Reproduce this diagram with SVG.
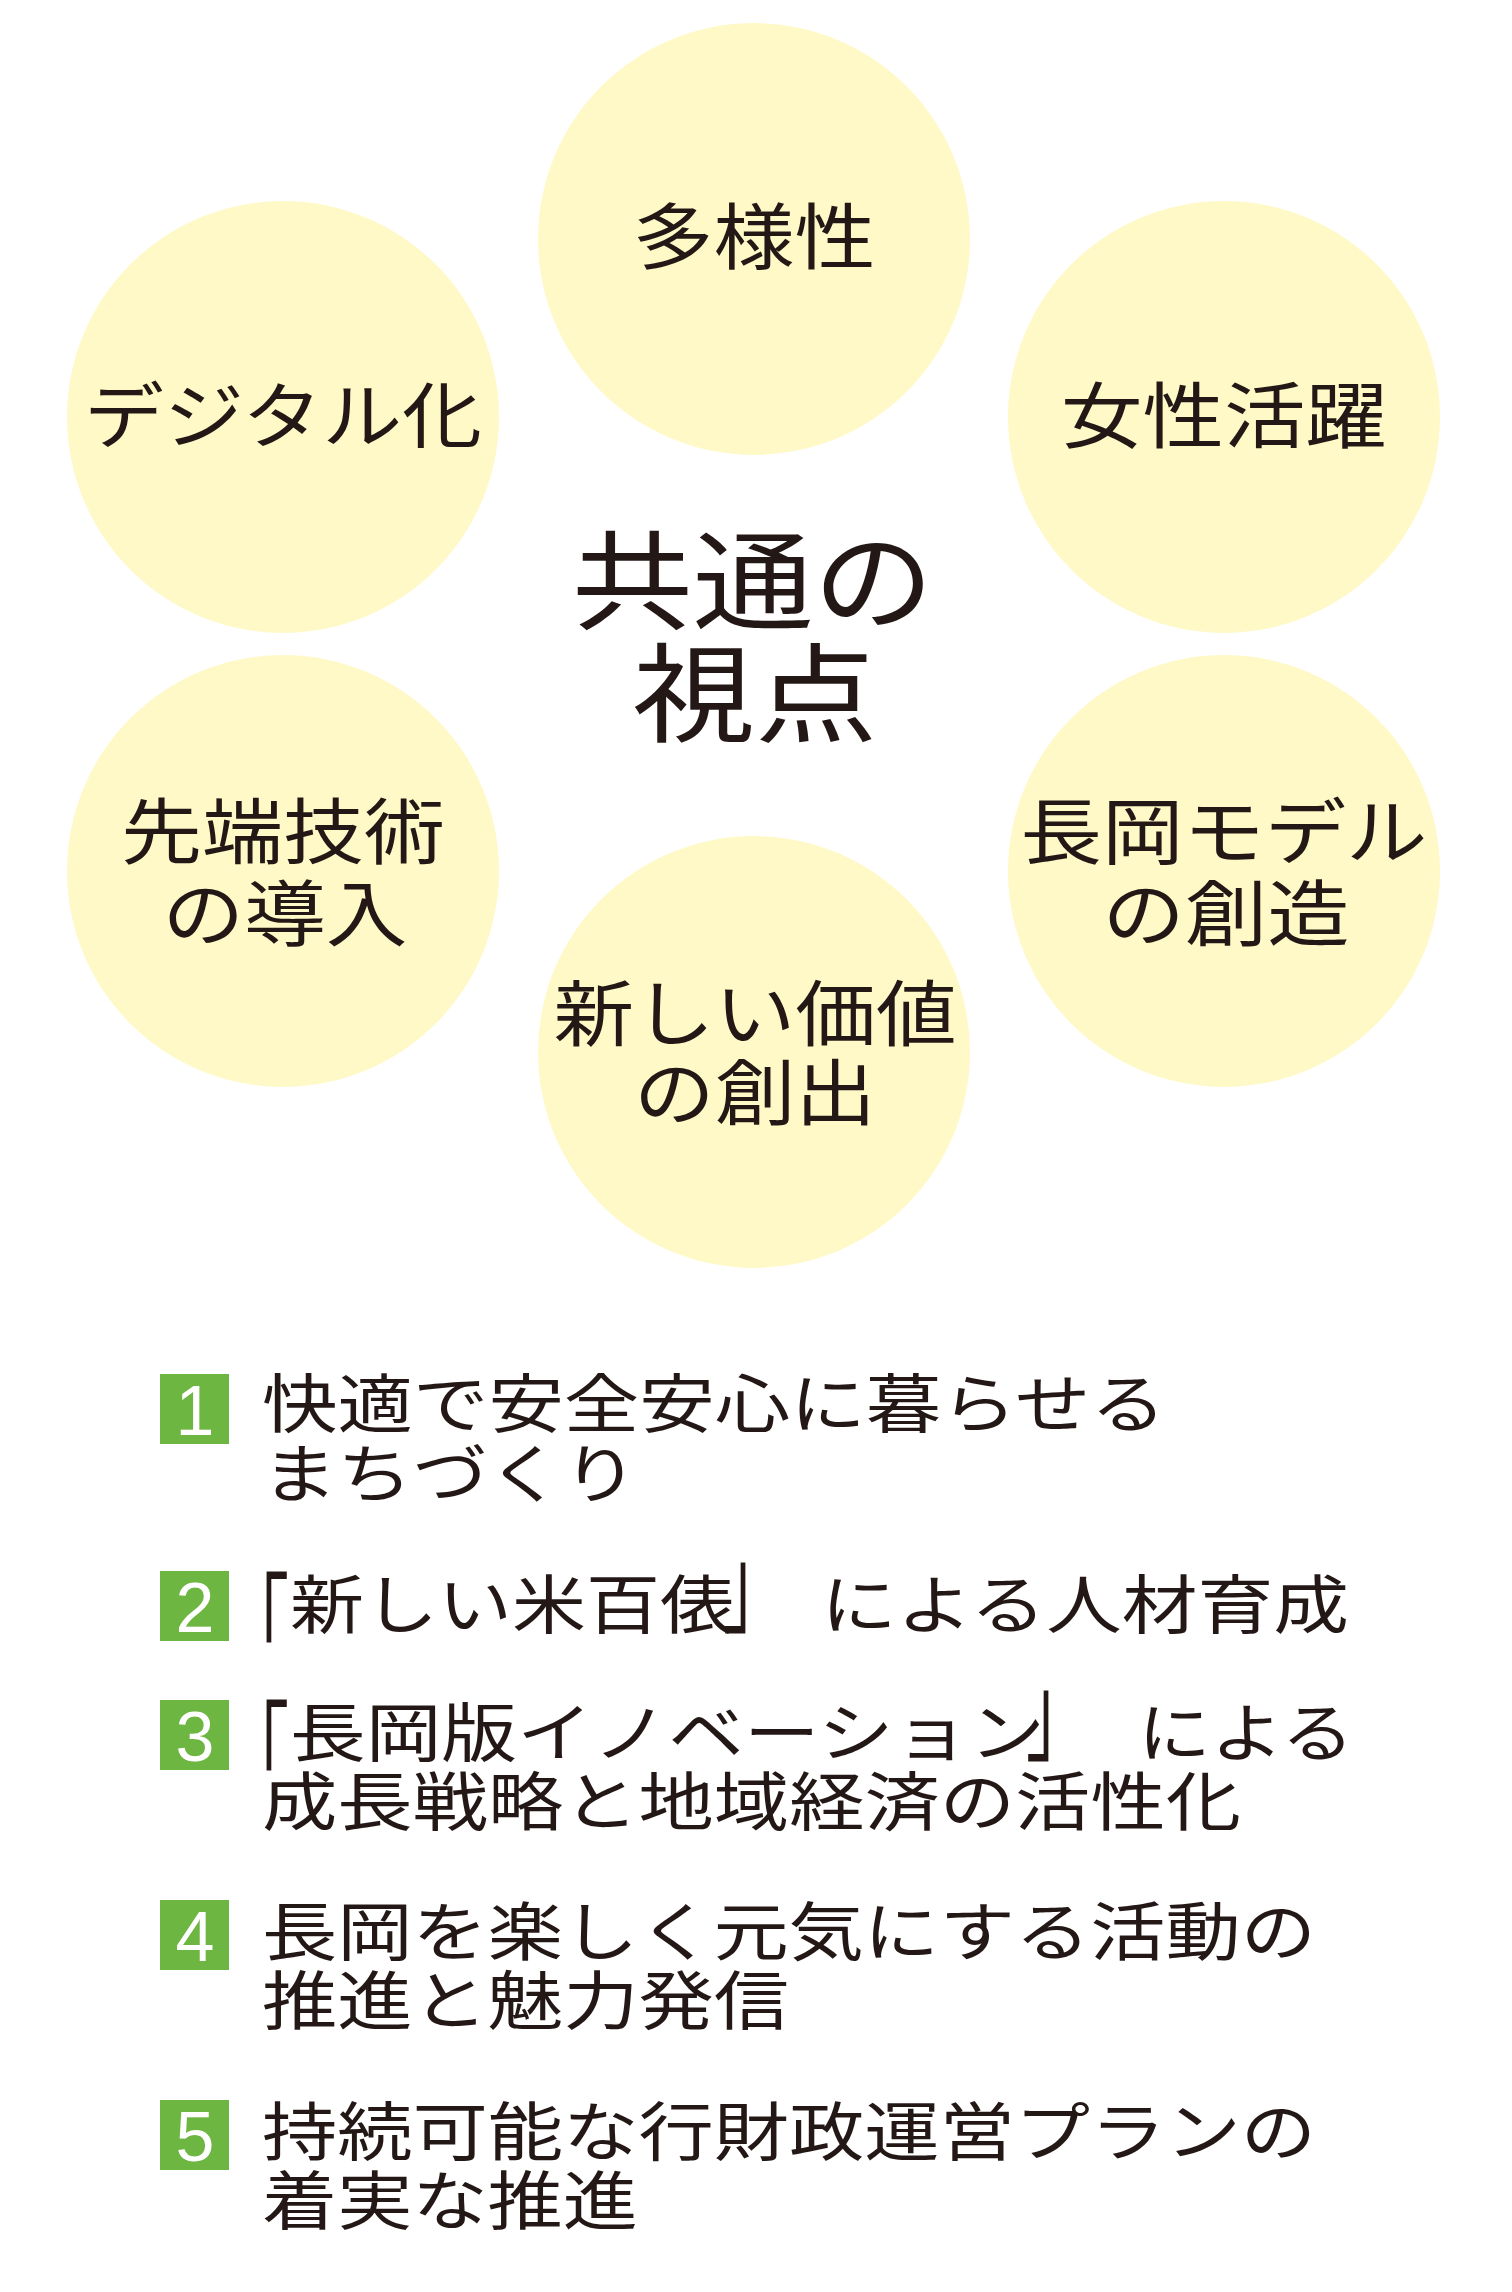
<svg xmlns="http://www.w3.org/2000/svg" width="1512" height="2292" viewBox="0 0 1512 2292">
<style>
.c{fill:#FFF9C8}
.t{font-family:'Noto Sans CJK JP','Noto Sans CJK SC',sans-serif;fill:#231815;font-weight:400}
.ct{font-size:72px;text-anchor:middle}
.h{font-size:108px;text-anchor:middle}
.l{font-size:64px}
.box{fill:#6CB641}
.num{font-family:'Liberation Sans',Arial,sans-serif;font-size:70px;fill:#fff;text-anchor:middle}
</style>
<rect width="1512" height="2292" fill="#fff"/>
<g id="connectors"/>
<g id="node-tayousei">
<circle class="c" cx="754" cy="239" r="216"/>
<text class="t ct" x="754" y="263" textLength="243" lengthAdjust="spacingAndGlyphs">多様性</text>
</g>
<g id="node-digital">
<circle class="c" cx="283" cy="417" r="216"/>
<text class="t ct" x="283" y="442" textLength="398" lengthAdjust="spacingAndGlyphs">デジタル化</text>
</g>
<g id="node-josei">
<circle class="c" cx="1224" cy="417" r="216"/>
<text class="t ct" x="1224" y="442" textLength="326" lengthAdjust="spacingAndGlyphs">女性活躍</text>
</g>
<g id="node-sentan">
<circle class="c" cx="283" cy="871" r="216"/>
<text class="t ct" x="283" y="858" textLength="324" lengthAdjust="spacingAndGlyphs">先端技術</text>
<text class="t ct" x="285" y="940" textLength="245" lengthAdjust="spacingAndGlyphs">の導入</text>
</g>
<g id="node-model">
<circle class="c" cx="1224" cy="871" r="216"/>
<text class="t ct" x="1224" y="858" textLength="407" lengthAdjust="spacingAndGlyphs">長岡モデル</text>
<text class="t ct" x="1226" y="940" textLength="247" lengthAdjust="spacingAndGlyphs">の創造</text>
</g>
<g id="node-kachi">
<circle class="c" cx="754" cy="1052" r="216"/>
<text class="t ct" x="755" y="1040" textLength="403" lengthAdjust="spacingAndGlyphs">新しい価値</text>
<text class="t ct" x="755" y="1119" textLength="242" lengthAdjust="spacingAndGlyphs">の創出</text>
</g>
<g id="node-center">
<text class="t h" x="753" y="621" textLength="362" lengthAdjust="spacingAndGlyphs">共通の</text>
<text class="t h" x="755" y="734" textLength="245" lengthAdjust="spacingAndGlyphs">視点</text>
</g>
<g id="item-1">
<rect class="box" x="160" y="1374" width="69" height="70"/>
<text class="num" x="195" y="1435">1</text>
<text class="t l" x="262" y="1427" textLength="904" lengthAdjust="spacingAndGlyphs">快適で安全安心に暮らせる</text>
<text class="t l" x="262" y="1497" textLength="376" lengthAdjust="spacingAndGlyphs">まちづくり</text>
</g>
<g id="item-2">
<rect class="box" x="160" y="1571" width="69" height="70"/>
<text class="num" x="195" y="1632">2</text>
<text class="t l" x="225" y="1628" transform="translate(0,1576) scale(1,1.7) translate(0,-1576)">「</text>
<text class="t l" x="290" y="1628" textLength="444" lengthAdjust="spacingAndGlyphs">新しい米百俵</text>
<text class="t l" x="723" y="1628" transform="translate(0,1634) scale(1,1.7) translate(0,-1634)">」</text>
<text class="t l" x="821" y="1628" textLength="528" lengthAdjust="spacingAndGlyphs">による人材育成</text>
</g>
<g id="item-3">
<rect class="box" x="160" y="1700" width="69" height="70"/>
<text class="num" x="195" y="1761">3</text>
<text class="t l" x="225" y="1756" transform="translate(0,1704) scale(1,1.7) translate(0,-1704)">「</text>
<text class="t l" x="290" y="1756" textLength="755" lengthAdjust="spacingAndGlyphs">長岡版イノベーション</text>
<text class="t l" x="1026" y="1756" transform="translate(0,1762) scale(1,1.7) translate(0,-1762)">」</text>
<text class="t l" x="1138" y="1756" textLength="216" lengthAdjust="spacingAndGlyphs">による</text>
<text class="t l" x="262" y="1825" textLength="979" lengthAdjust="spacingAndGlyphs">成長戦略と地域経済の活性化</text>
</g>
<g id="item-4">
<rect class="box" x="160" y="1900" width="69" height="70"/>
<text class="num" x="195" y="1961">4</text>
<text class="t l" x="262" y="1955" textLength="1054" lengthAdjust="spacingAndGlyphs">長岡を楽しく元気にする活動の</text>
<text class="t l" x="262" y="2024" textLength="527" lengthAdjust="spacingAndGlyphs">推進と魅力発信</text>
</g>
<g id="item-5">
<rect class="box" x="160" y="2100" width="69" height="70"/>
<text class="num" x="195" y="2161">5</text>
<text class="t l" x="262" y="2155" textLength="1054" lengthAdjust="spacingAndGlyphs">持続可能な行財政運営プランの</text>
<text class="t l" x="262" y="2224" textLength="376" lengthAdjust="spacingAndGlyphs">着実な推進</text>
</g>
</svg>
